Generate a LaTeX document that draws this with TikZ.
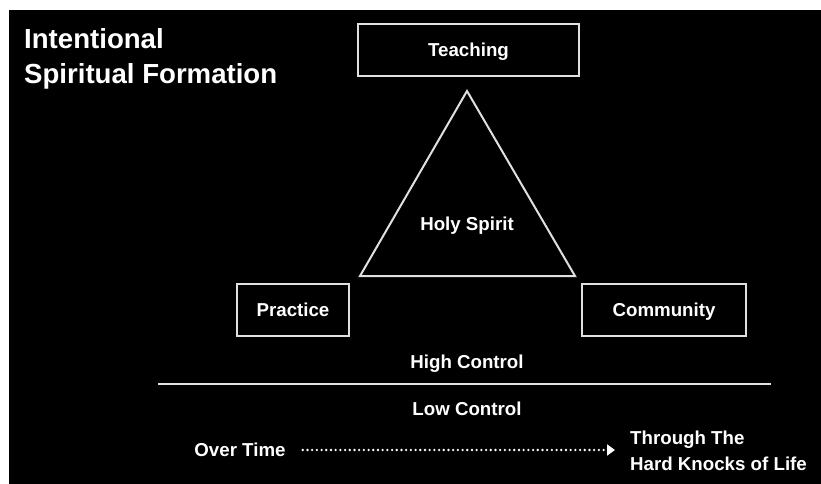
\documentclass[tikz,border=0pt]{standalone}
\usepackage{fontspec}
\setmainfont{Liberation Sans}
\usepackage{tikz}
\usetikzlibrary{arrows.meta}

\begin{document}
\begin{tikzpicture}[x=1pt,y=-1pt,
  lbl/.style={text=white,inner sep=0pt,font=\fontsize{18.7}{25}\selectfont\bfseries,
    text height=13pt,text depth=0pt},
  part/.style={lbl,draw=white!88!black,line width=2pt,minimum height=52pt},
  ln/.style={draw=white!88!black,line width=2pt}]
\useasboundingbox (0,0) rectangle (821,484);
\fill[white] (0,0) rectangle (821,484);
\fill[black] (9,10) rectangle (821,484);
% title
\node[text=white,inner sep=0pt,anchor=north west,align=left,
  font=\fontsize{27.6}{35}\selectfont\bfseries] (title) at (24,28)
  {Intentional\\Spiritual Formation};
% the three parts
\node[part,minimum width=221pt] (teach) at (468.5,50.5) {Teaching};
\node[part,minimum width=112pt] (prac) at (293,310) {Practice};
\node[part,minimum width=164pt] (comm) at (664,310) {Community};
% triangle
\coordinate (apex) at (467,91);
\coordinate (bl) at (360,276);
\coordinate (br) at (575,276);
\draw[ln,line join=miter] (apex) -- (bl) -- (br) -- cycle;
\node[lbl] (spirit) at (467,224) {Holy Spirit};
% control
\node[lbl] (high) at (467,362) {High Control};
\coordinate (sepl) at (158,384);
\coordinate (sepr) at (771,384);
\draw[ln] (sepl) -- (sepr);
\node[lbl] (low) at (467,409) {Low Control};
% time
\node[lbl] (over) at (240,450) {Over Time};
\node[text=white,inner sep=0pt,anchor=west,align=left,
  font=\fontsize{18.7}{26.5}\selectfont\bfseries] (thru) at (630,451)
  {Through The\\Hard Knocks of Life};
\draw[white,line width=2.6pt,line cap=round,dash pattern=on 0pt off 4.7pt,
  shorten <=17pt,shorten >=8pt,
  -{Triangle[length=8pt,width=11pt,sep=7pt]}]
  (over.east) -- (over.east -| thru.west);
\end{tikzpicture}
\end{document}
